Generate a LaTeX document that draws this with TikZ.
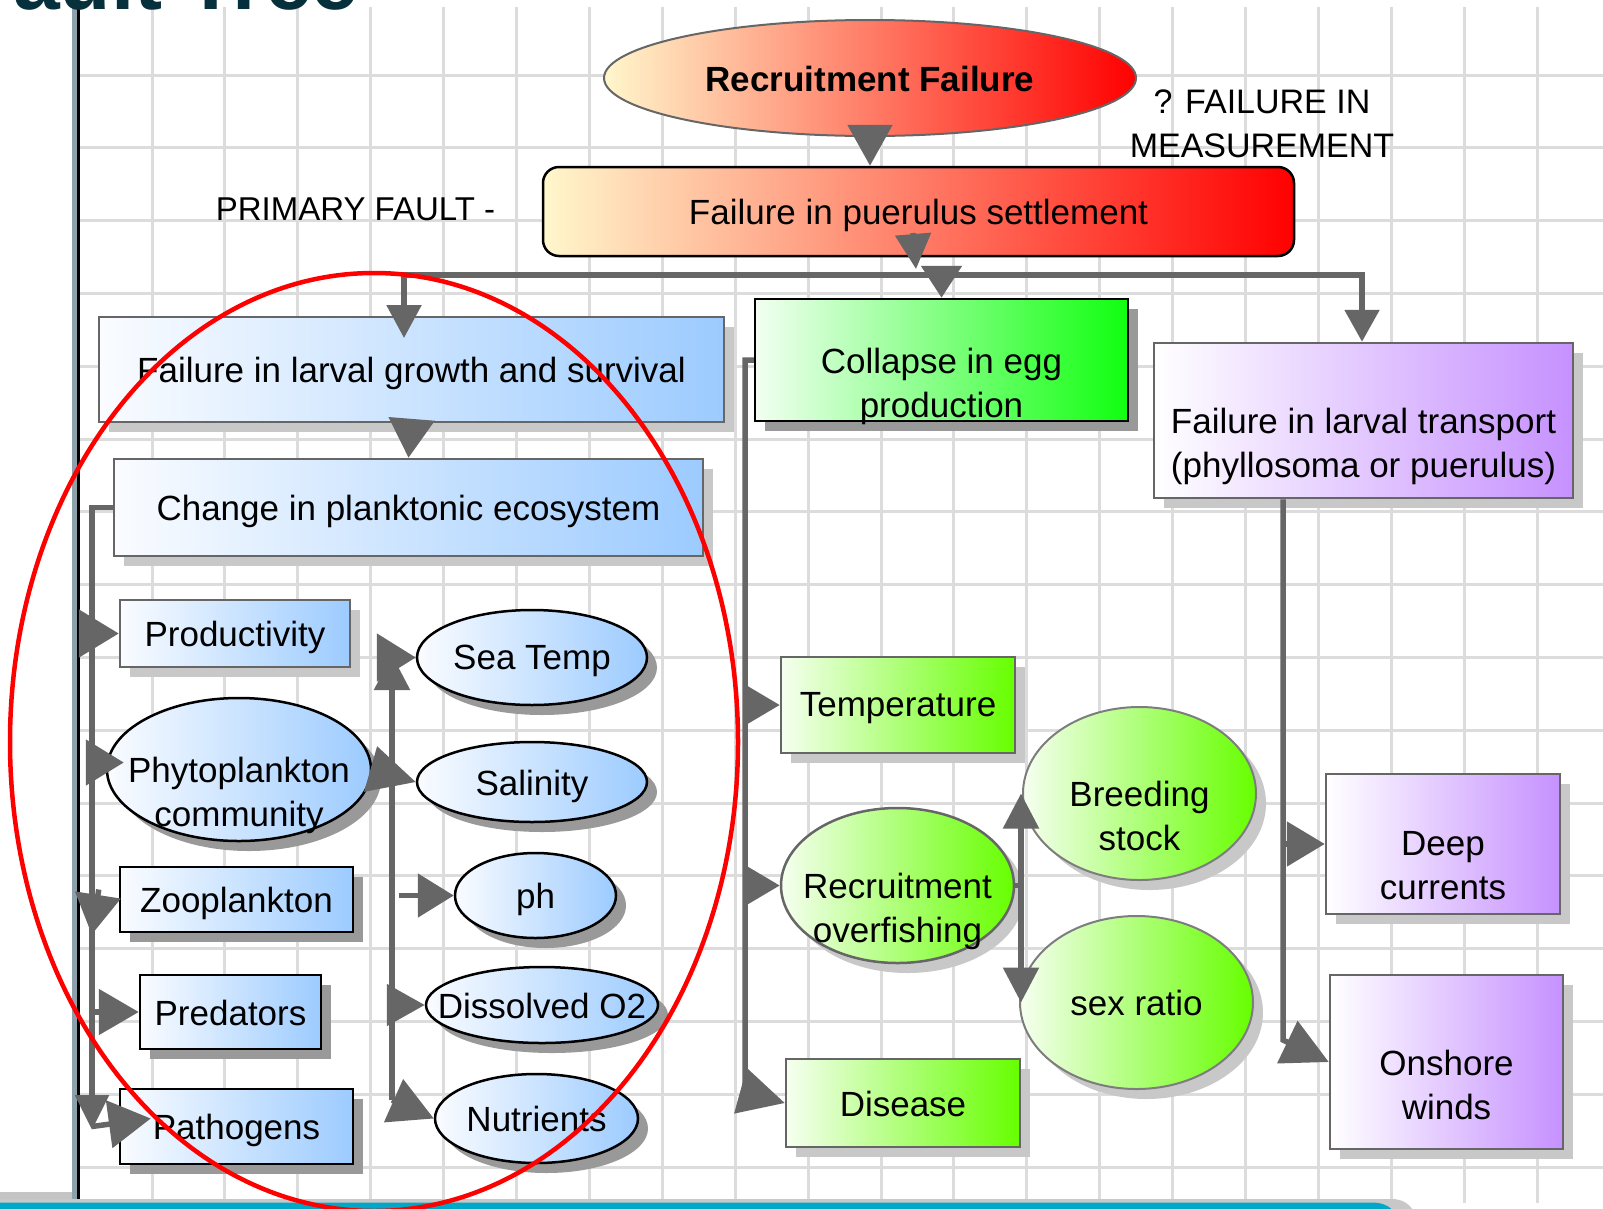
\documentclass[tikz,border=0pt]{standalone}
\usepackage{fontspec}
\setmainfont{Liberation Sans}
\usetikzlibrary{shapes.geometric,arrows.meta,shadows,calc}
\newcommand\lblfont{\fontsize{35}{44}\selectfont}
\definecolor{conn}{HTML}{666666}
\definecolor{gridc}{HTML}{DCDCDC}
\definecolor{bordg}{HTML}{666666}
\definecolor{shl}{HTML}{C8C8C8}
\definecolor{shd}{HTML}{999999}
\definecolor{blueL}{HTML}{FAFCFF}
\definecolor{blueR}{HTML}{9CCBFF}
\definecolor{grnL}{HTML}{F6FFF0}
\definecolor{grnR}{HTML}{66FF00}
\definecolor{colL}{HTML}{F2FFF2}
\definecolor{colR}{HTML}{10FF10}
\definecolor{purR}{HTML}{C691FF}
\definecolor{yelL}{HTML}{FFF7CC}
\definecolor{orM}{HTML}{FF9676}
\definecolor{redR}{HTML}{FF0000}
\definecolor{titlec}{HTML}{06303C}
\definecolor{cyanbar}{HTML}{00A8C8}
\definecolor{panelbar}{HTML}{8DA1AD}
\definecolor{stripg}{HTML}{C4C4C4}
\begin{document}
\begin{tikzpicture}[x=1pt,y=-1pt,
  gridline/.style={draw=gridc, line width=3pt},
  connline/.style={draw=conn, line width=5.5pt},
  arrw/.style 2 args={connline, arrows={-Triangle[length=#1,width=#2]}},
  sz/.style 2 args={minimum width=#1pt, minimum height=#2pt},
  bx/.style={draw=bordg, line width=2.5pt, inner sep=0pt},
  blk/.style={draw=black},
  ell/.style={shape=ellipse},
  fblue/.style={left color=blueL, right color=blueR},
  fgreen/.style={left color=grnL, right color=grnR},
  fcol/.style={left color=colL, right color=colR},
  fpurple/.style={left color=white, right color=purR},
  fhot/.style={left color=yelL, middle color=orM, right color=redR},
  lsh/.style={drop shadow={shadow xshift=10pt, shadow yshift=-10pt, opacity=1, fill=shl, draw=none}},
  dsh/.style={drop shadow={shadow xshift=10pt, shadow yshift=-10pt, opacity=1, fill=shd, draw=none}},
  lbl/.style={inner sep=0pt, anchor=north, yshift=12.5pt, align=center, font=\lblfont},
]
\useasboundingbox (0,0) rectangle (1603,1208);
\clip (0,0) rectangle (1603,1208);
\fill[white] (0,0) rectangle (1603,1208);

% grid
\foreach \i in {0,...,19} \draw[gridline] ({152+72.9*\i},7) -- ({152+72.9*\i},1203);
\foreach \j in {0,...,15} \draw[gridline] (80,{75+72.8*\j}) -- (1603,{75+72.8*\j});

% panel edge
\fill[panelbar] (72,7) rectangle (77,1203);
\fill[black] (77,7) rectangle (80,1203);

% title (cut off)
\node[anchor=base west, inner sep=0pt, text=titlec, font=\fontsize{84}{84}\selectfont\bfseries] (title) at (13,9.5) {ault Tree};

% side texts
\node[anchor=base, inner sep=0pt, font=\fontsize{33}{40}\selectfont] (pf) at (355.5,220) {PRIMARY FAULT -};
\node[anchor=north, inner sep=0pt, align=center, font=\fontsize{34}{44}\selectfont] (fm) at (1262,90) {? FAILURE IN\\MEASUREMENT};

% top events
\node[ell, draw=bordg, line width=2pt, inner sep=0pt, fhot, sz={532}{116}] (rf) at (870,78) {};
\node[lbl, font=\lblfont\bfseries] (rf-t) at (rf.center) {Recruitment Failure};
\node[draw=black, line width=2.5pt, inner sep=0pt, rounded corners=16pt, fhot, sz={751}{89}] (ps) at (918.5,211.5) {};
\node[lbl] (ps-t) at (ps.center) {Failure in puerulus settlement};

% second level
\node[bx, fblue, lsh, sz={625}{105}] (flg) at (411.5,369.5) {};
\node[lbl] (flg-t) at (flg.center) {Failure in larval growth and survival};
\node[bx, fblue, lsh, sz={589}{97}] (cpe) at (408.5,507.5) {};
\node[lbl] (cpe-t) at (cpe.center) {Change in planktonic ecosystem};
\node[bx, blk, fcol, dsh, sz={373}{122}] (col) at (941.5,360) {};
\node[lbl] (col-t) at (col.center) {Collapse in egg\\production};
\node[bx, fpurple, lsh, sz={419}{155}] (trn) at (1363.5,420.5) {};
\node[lbl] (trn-t) at (trn.center) {Failure in larval transport\\(phyllosoma or puerulus)};

% plankton column
\node[bx, fblue, lsh, sz={230}{67}] (prod) at (235,633.5) {};
\node[lbl] (prod-t) at (prod.center) {Productivity};
\node[bx, blk, ell, fblue, dsh, sz={264}{143}] (phy) at (239,769.5) {};
\node[lbl] (phy-t) at (phy.center) {Phytoplankton\\community};
\node[bx, blk, fblue, dsh, sz={233}{65}] (zoo) at (236.5,899.5) {};
\node[lbl] (zoo-t) at (zoo.center) {Zooplankton};
\node[bx, blk, fblue, dsh, sz={181}{74}] (pred) at (230.5,1012) {};
\node[lbl] (pred-t) at (pred.center) {Predators};
\node[bx, blk, fblue, dsh, sz={233}{75}] (patho) at (236.5,1126.5) {};
\node[lbl] (patho-t) at (patho.center) {Pathogens};

% ocean column
\node[bx, blk, ell, fblue, dsh, sz={230}{95}] (sea) at (532,657.5) {};
\node[lbl] (sea-t) at (sea.center) {Sea Temp};
\node[bx, blk, ell, fblue, dsh, sz={230}{80}] (sal) at (532,782) {};
\node[lbl] (sal-t) at (sal.center) {Salinity};
\node[bx, blk, ell, fblue, dsh, sz={161}{85}] (ph) at (535.5,895.5) {};
\node[lbl] (ph-t) at (ph.center) {ph};
\node[bx, blk, ell, fblue, dsh, sz={232}{76}] (do2) at (542,1005) {};
\node[lbl] (do2-t) at (do2.center) {Dissolved O2};
\node[bx, blk, ell, fblue, dsh, sz={203}{89}] (nut) at (536.5,1118.5) {};
\node[lbl] (nut-t) at (nut.center) {Nutrients};

% egg production column
\node[bx, fgreen, lsh, sz={234}{96}] (tem) at (898,705) {};
\node[lbl] (tem-t) at (tem.center) {Temperature};
\node[bx, ell, fgreen, lsh, sz={233}{155}] (ovf) at (897.5,885.5) {};
\node[lbl] (ovf-t) at (ovf.center) {Recruitment\\overfishing};
\node[bx, fgreen, lsh, sz={234}{88}] (dis) at (903,1103) {};
\node[lbl] (dis-t) at (dis.center) {Disease};
\node[bx, ell, line width=2pt, draw=bordg!85, fgreen, lsh, sz={233}{173}] (bre) at (1139.5,793.5) {};
\node[lbl] (bre-t) at (bre.center) {Breeding\\stock};
\node[bx, ell, line width=2pt, draw=bordg!85, fgreen, lsh, sz={233}{173}] (sex) at (1136.5,1002.5) {};
\node[lbl] (sex-t) at (sex.center) {sex ratio};

% transport column
\node[bx, fpurple, lsh, sz={234}{140}] (deep) at (1443,844) {};
\node[lbl] (deep-t) at (deep.center) {Deep\\currents};
\node[bx, fpurple, lsh, sz={233}{174}] (ons) at (1446.5,1062) {};
\node[lbl] (ons-t) at (ons.center) {Onshore\\winds};

% coordinates
\coordinate (busL) at (404,275);
\coordinate (busR) at (1362,275);
\coordinate (flgIn) at (404,338);
\coordinate (psO) at (913,233);
\coordinate (busT) at (916,269);
\coordinate (t1b) at (92,1130);
\coordinate (t2t) at (392,655);
\coordinate (t2b) at (392,1100);
\coordinate (t3b) at (745,1092);
\coordinate (t4) at (1021,885.5);
\coordinate (t5b) at (1283,1040);
\coordinate (zA) at ([xshift=-20pt,yshift=10pt]zoo.west);
\coordinate (zB) at ([xshift=-27pt,yshift=-35pt]zoo.west);
\coordinate (phIn) at ([xshift=18pt,yshift=7pt]phy.west);
\coordinate (paIn) at ([xshift=32pt,yshift=8pt]patho.west);
\coordinate (phS) at ([xshift=-55pt]ph.west);

% connectors
\draw[arrw={41pt}{44pt}] ([yshift=10pt]rf.south) -- (rf.south |- ps.north);
\draw[arrw={35pt}{35pt}] (psO) -- (busT);
\draw[connline, arrows={Triangle[length=33pt,width=34pt]-Triangle[length=32pt,width=34pt]}] (flgIn) -- (busL) -- (busR) -- (busR |- trn.north);
\draw[arrw={32pt}{40pt}] ([yshift=31pt]col.north) -- (col.north);
\draw[arrw={39pt}{45pt}] ([yshift=3pt]flg.south) -- (cpe.north);

\draw[arrw={35pt}{33pt}] (cpe.west) -| (t1b);
\draw[arrw={40pt}{47pt}] (prod.west -| t1b) -- (prod.west);
\draw[arrw={38pt}{45pt}] (phIn -| t1b) -- (phIn);
\draw[arrw={40pt}{45pt}] (zA) -- (zB);
\draw[arrw={40pt}{45pt}] (pred.west -| t1b) -- (pred.west);
\draw[arrw={42pt}{47pt}] (patho.west -| t1b) -- (paIn);

\draw[arrw={35pt}{35pt}] (t2b) -- (t2t);
\draw[arrw={39pt}{47pt}] (sea.west -| t2t) -- (sea.west);
\draw[arrw={47pt}{46pt}] (phy.east) -- (sal.west);
\draw[arrw={36pt}{43pt}] (phS) -- (ph.west);
\draw[arrw={38pt}{41pt}] (do2.west -| t2t) -- (do2.west);
\draw[arrw={44pt}{46pt}] (t2b) -- (nut.west);

\draw[arrw={46pt}{46pt}] (col.west) -| (t3b) -- (dis.west);
\draw[arrw={36pt}{41pt}] (tem.west -| t3b) -- (tem.west);
\draw[arrw={36pt}{41pt}] (ovf.west -| t3b) -- (ovf.west);

\draw[arrw={35pt}{35pt}] (ovf.east) -- (t4) -- (t4 |- bre.west);
\draw[arrw={35pt}{35pt}] (t4) -- (t4 |- sex.west);

\draw[arrw={46pt}{46pt}] (trn.south -| t5b) -- (t5b) -- (ons.west);
\draw[arrw={38pt}{44pt}] (deep.west -| t5b) -- (deep.west);

% bottom strip
\fill[stripg] (0,1192) rectangle (72,1203);
\fill[shl] (0,1199) -- (1392,1199) .. controls (1402,1199) and (1410,1204) .. (1414,1212) -- (0,1212) -- cycle;
\fill[cyanbar] (0,1202.5) -- (1372,1202.5) .. controls (1382,1202.5) and (1390,1206) .. (1394,1212) -- (0,1212) -- cycle;

% red highlight ellipse
\draw[red, line width=4.5pt] (374,742) ellipse [x radius=364, y radius=469];
\end{tikzpicture}
\end{document}
